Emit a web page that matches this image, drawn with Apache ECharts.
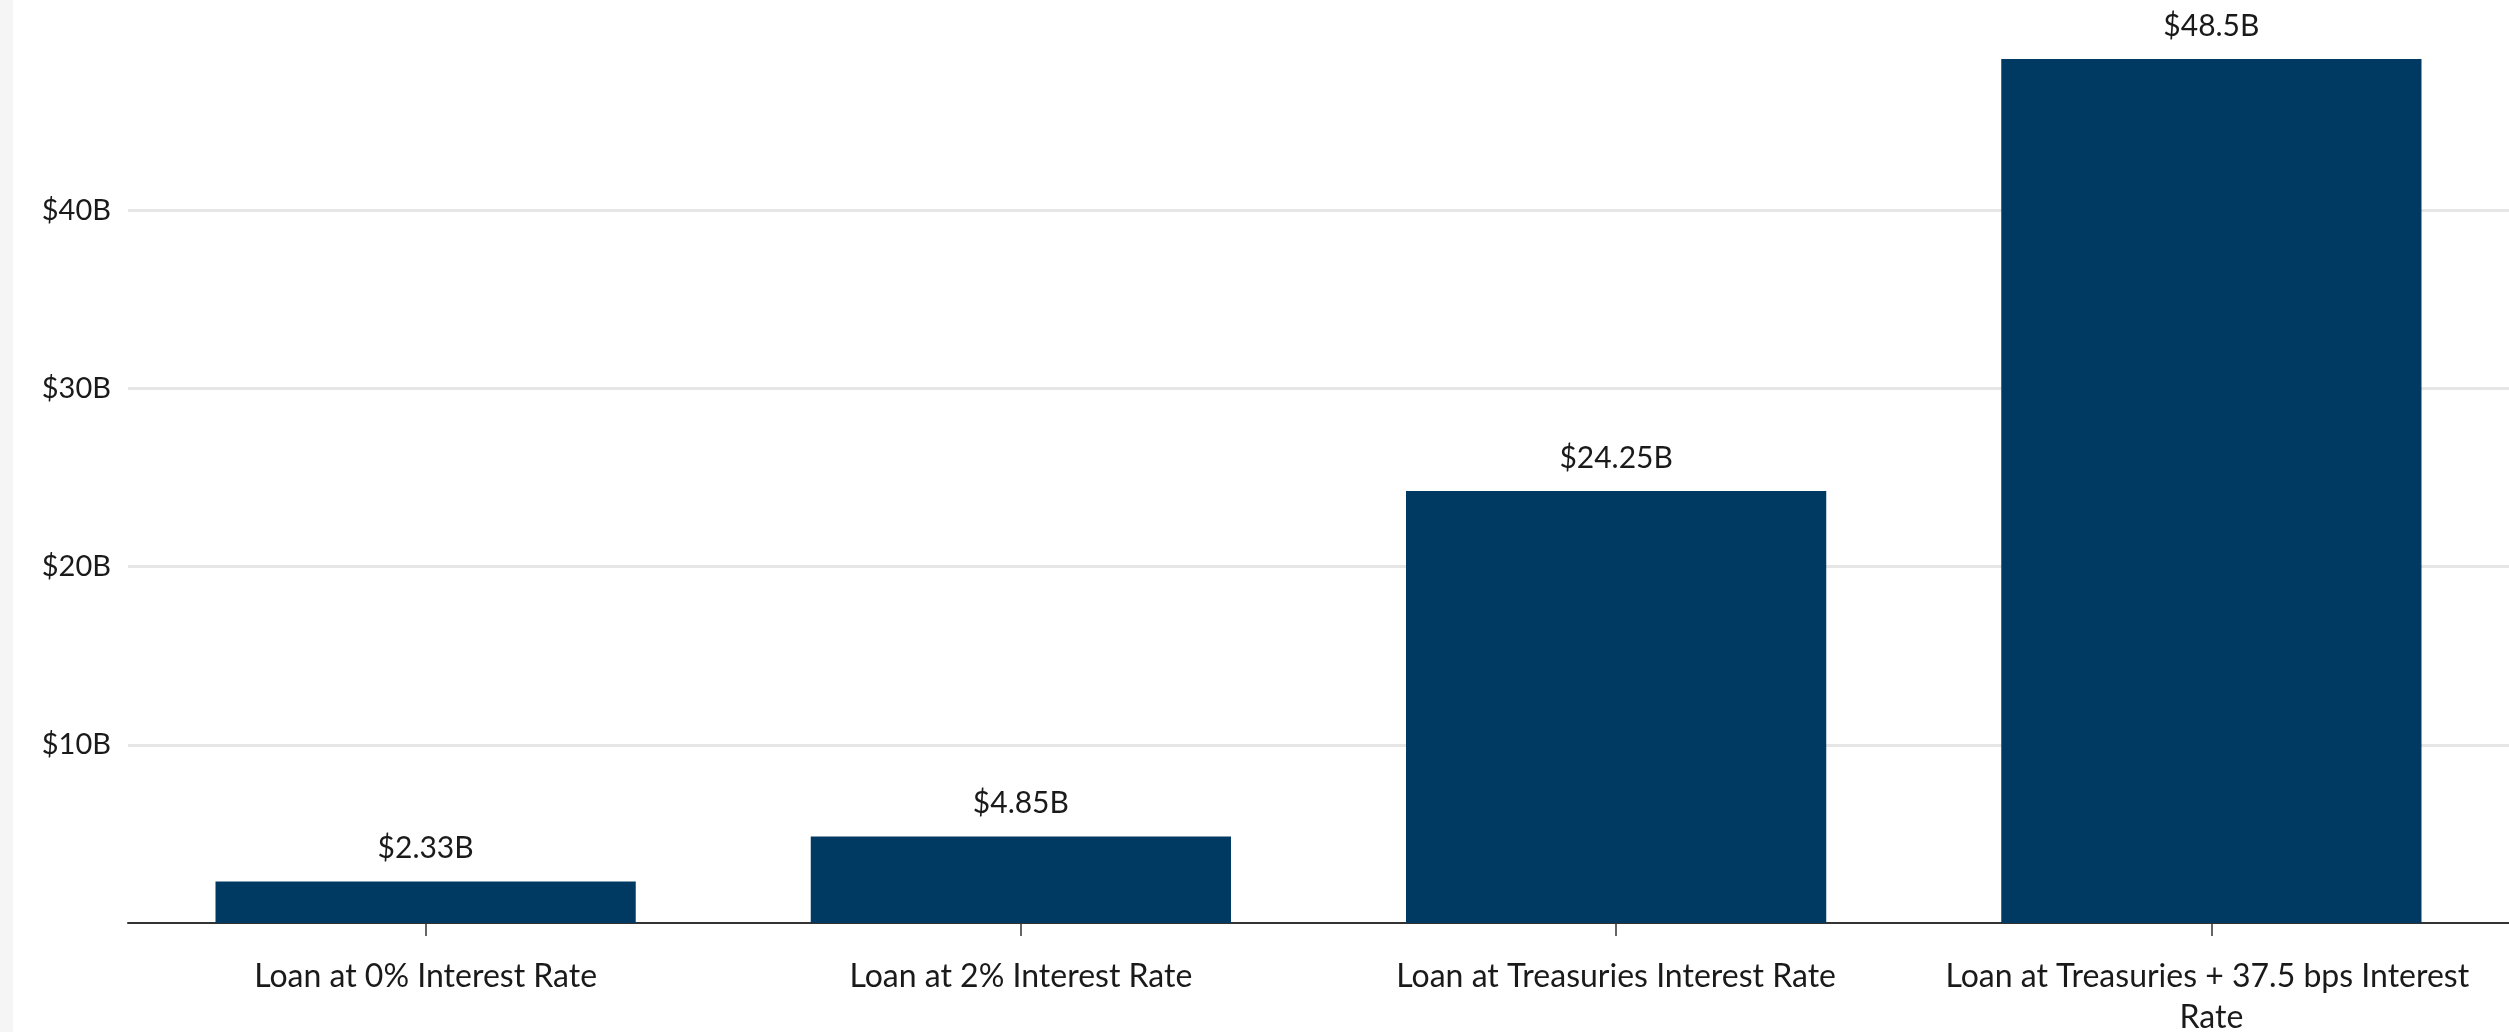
<!DOCTYPE html>
<html>
<head>
<meta charset="utf-8">
<script src="https://cdn.jsdelivr.net/npm/echarts@6/dist/echarts.min.js"></script>
<style>
html,body{margin:0;padding:0;background:#fff;}
#chart{width:2509px;height:1032px;}
</style>
</head>
<body>
<div id="chart"></div>
<script>
const categories = [
  "Loan at 0% Interest Rate",
  "Loan at 2% Interest Rate",
  "Loan at Treasuries Interest Rate",
  "Loan at Treasuries + 37.5 bps Interest Rate"
];
const values = [2.33, 4.85, 24.25, 48.5];
const valueLabels = ["$2.33B", "$4.85B", "$24.25B", "$48.5B"];

const chart = echarts.init(document.getElementById('chart'), null, {renderer: 'canvas'});
const FONT = 'Lato';
chart.setOption({
  animation: false,
  backgroundColor: '#ffffff',
  graphic: [{
    type: 'rect', left: 0, top: 0, shape: {width: 13, height: 1032},
    style: {fill: '#f5f5f5'}, silent: true
  }],
  grid: {left: 128, right: 0, top: 59, bottom: 109, containLabel: false, outerBoundsMode: 'none'},
  xAxis: {
    type: 'category',
    data: categories,
    axisLine: {show: true, lineStyle: {color: '#333333', width: 2}},
    axisTick: {show: true, alignWithLabel: true, length: 13, lineStyle: {color: '#333333', width: 1.5}},
    axisLabel: {
      color: '#1a1a1a', fontFamily: FONT, fontSize: 32, margin: 33,
      width: 565, overflow: 'break', lineHeight: 41, interval: 0
    }
  },
  yAxis: {
    type: 'value',
    min: 0,
    max: 'dataMax',
    interval: 10,
    axisLine: {show: false},
    axisTick: {show: false},
    axisLabel: {
      color: '#1a1a1a', fontFamily: FONT, fontSize: 29, margin: 17,
      showMinLabel: false, showMaxLabel: false,
      formatter: function (v) { return v === 0 ? '' : '$' + v + 'B'; }
    },
    splitLine: {show: true, showMinLine: false, showMaxLine: false, lineStyle: {color: '#e6e6e6', width: 3}}
  },
  series: [{
    type: 'bar',
    data: values,
    barCategoryGap: '29.4%',
    itemStyle: {color: '#003a62'},
    label: {
      show: true, position: 'top', distance: 18,
      color: '#1a1a1a', fontFamily: FONT, fontSize: 30,
      formatter: function (p) { return valueLabels[p.dataIndex]; }
    }
  }]
});
</script>
</body>
</html>
